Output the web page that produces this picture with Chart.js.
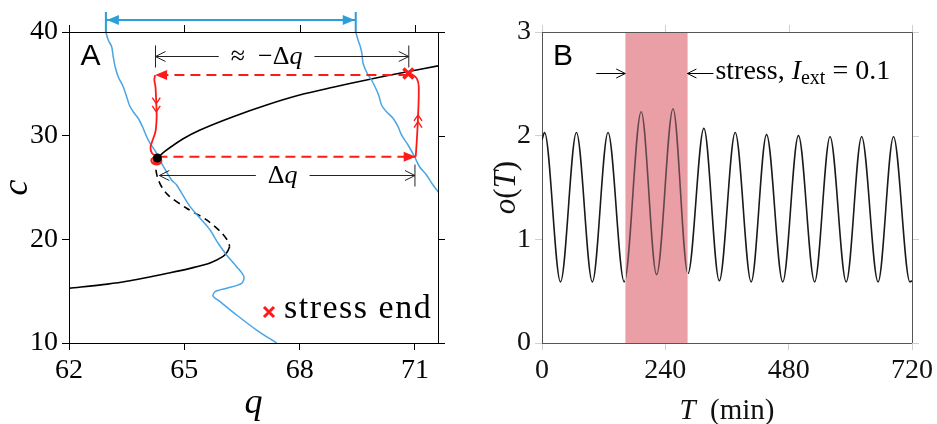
<!DOCTYPE html>
<html>
<head>
<meta charset="utf-8">
<script src="https://cdn.jsdelivr.net/npm/chart.js@4.4.1/dist/chart.umd.min.js"></script>
<style>
html,body{margin:0;padding:0;background:#fff;overflow:hidden}
#wrap{position:relative;width:937px;height:424px}
#boxA{position:absolute;left:0;top:0;width:468px;height:424px}
#boxB{position:absolute;left:468px;top:0;width:469px;height:424px}
</style>
</head>
<body>
<div id="wrap">
  <div id="boxA"><canvas id="chartA"></canvas></div>
  <div id="boxB"><canvas id="chartB"></canvas></div>
</div>
<script>
// ---- panel A: phase plane (q, c) ----
const qTicks=[62,65,68,71];
const cTicks=[10,20,30,40];

// nullclines (blue), before and during stress
const blueLQ=[62.96,63.02,63.11,63.15,63.20,63.28,63.41,63.50,63.57,63.67,63.80,63.93,64.02,64.11,64.28,64.41,64.67,64.80,65.15,65.45,65.67,65.88,66.10,66.36,66.55,66.49,66.10,65.80,65.75,65.93,66.36,66.88,67.40];
const blueLC=[40.0,39.23,38.58,37.62,36.65,35.69,34.72,33.76,32.96,32.31,31.68,30.71,29.90,29.26,28.30,27.33,25.72,25.24,23.15,21.87,20.90,19.62,18.49,17.36,16.40,15.76,15.28,14.95,14.53,13.99,12.70,11.25,10.0];
const blueRQ=[69.46,69.52,69.58,69.62,69.65,69.76,69.87,69.98,70.07,70.13,70.26,70.43,70.56,70.65,70.82,70.99,71.12,71.30,71.47,71.62];
const blueRC=[40.0,39.23,38.58,37.94,36.98,36.0,35.37,34.57,33.76,32.96,32.31,31.68,30.87,30.07,29.10,27.97,27.0,26.21,25.24,24.5];

// fixed-point branches (black)
const upperQ=[64.30,64.50,64.97,65.41,66.27,67.14,68.00,68.87,69.74,70.60,71.62];
const upperC=[27.85,28.50,29.70,30.55,31.83,32.96,33.92,34.67,35.37,36.02,36.75];
const unstableQ=[64.30,64.26,64.30,64.42,64.60,65.06,65.58,65.95,66.14,66.18];
const unstableC=[27.85,26.90,26.00,25.00,24.20,23.00,21.87,20.70,19.80,19.30];
const lowerQ=[66.18,66.12,66.01,65.67,65.15,64.63,63.50,63.00,62.00];
const lowerC=[19.30,18.80,18.35,17.72,17.20,16.78,15.95,15.68,15.27];

// stress trajectory (red)
const redUpQ=[71.02,71.05,71.08,71.10,71.05,70.93,70.83];
const redUpC=[27.97,29.60,31.80,34.70,35.50,35.90,36.00];
const redDownQ=[64.24,64.22,64.25,64.27,64.28,64.25,64.17,64.12,64.16,64.30];
const redDownC=[35.85,35.40,34.70,33.20,31.80,30.40,29.50,28.85,28.30,27.97];
const loopQ=[64.30,64.18,64.14,64.22,64.36,64.40,64.31,64.20,64.24,64.34,64.30];
const loopC=[27.95,27.85,27.55,27.25,27.30,27.65,27.95,27.70,27.40,27.45,27.70];
const jumpOutQ=[64.30,71.02], jumpOutC=[27.97,27.97];
const jumpBackQ=[70.83,64.24], jumpBackC=[35.85,35.85];
const stressEndQ=[70.83], stressEndC=[36.0];
const restQ=[64.30], restC=[27.85];

// ---- panel B: o(T) time course ----
const timeTicks=[0,240,480,720];
const oTicks=[0,1,2,3];
const peakT=[5,67,128.5,193,255,315,376,437,499,560.5,622,684];
const peakO=[2.03,2.03,2.03,2.23,2.26,2.07,2.03,2.01,2.00,1.99,1.99,1.99];
const troughT=[36,98,160,223,284,345,407,468.5,530.5,592,654,716];
const troughO=[0.59,0.59,0.59,0.66,0.67,0.60,0.59,0.59,0.59,0.59,0.59,0.59];
const startO=1.96, endO=0.60;
const stressWindow=[162,283];

const BLUE='#4aa5e6', SPAN_BLUE='#2a9fd8', RED='#ff1a1a';
const serif=(s,it)=>(it?'italic ':'')+s+'px "Liberation Serif", serif';
const sans=s=>s+'px "Liberation Sans", sans-serif';

function pts(xs,ys){return xs.map((x,i)=>({x,y:ys[i]}));}
function curve(xs,ys,opts){
  return Object.assign({data:pts(xs,ys),showLine:true,pointRadius:0,fill:false,borderWidth:1.6},opts);
}
function chevron(ctx,x,y,ang,len,half){
  const c=Math.cos(ang),s=Math.sin(ang);
  ctx.beginPath();
  ctx.moveTo(x-len*c-half*s,y-len*s+half*c);
  ctx.lineTo(x,y);
  ctx.lineTo(x-len*c+half*s,y-len*s-half*c);
  ctx.stroke();
}
function headFilled(ctx,x,y,ang,len,half){
  const c=Math.cos(ang),s=Math.sin(ang);
  ctx.beginPath();
  ctx.moveTo(x,y);
  ctx.lineTo(x-len*c-half*s,y-len*s+half*c);
  ctx.lineTo(x-len*c+half*s,y-len*s-half*c);
  ctx.closePath();
  ctx.fill();
}
function runsWidth(ctx,runs){
  let w=0;
  runs.forEach(r=>{ctx.font=r.f;w+=ctx.measureText(r.t).width;});
  return w;
}
function drawRuns(ctx,runs,x,y,align){
  const w=runsWidth(ctx,runs);
  let cx=align==='center'?x-w/2:(align==='right'?x-w:x);
  ctx.textAlign='left';ctx.textBaseline='alphabetic';
  runs.forEach(r=>{ctx.font=r.f;ctx.fillText(r.t,cx,y+(r.dy||0));cx+=ctx.measureText(r.t).width;});
  return w;
}
// top and right edges of the box, with outward ticks
function frame(chart,xVals,yVals,lineColor,tickColor){
  const ctx=chart.ctx,ca=chart.chartArea,xs=chart.scales.x,ys=chart.scales.y;
  ctx.save();
  ctx.lineWidth=1;ctx.strokeStyle=tickColor;
  ctx.beginPath();
  xVals.forEach(v=>{const p=Math.round(xs.getPixelForValue(v))+0.5;ctx.moveTo(p,ca.top);ctx.lineTo(p,ca.top-7);});
  yVals.forEach(v=>{const p=Math.round(ys.getPixelForValue(v))+0.5;ctx.moveTo(ca.right,p);ctx.lineTo(ca.right+7,p);});
  ctx.stroke();
  ctx.strokeStyle=lineColor;
  ctx.beginPath();
  ctx.moveTo(ca.left,ca.top+0.5);ctx.lineTo(ca.right+0.5,ca.top+0.5);ctx.lineTo(ca.right+0.5,ca.bottom);
  ctx.stroke();
  ctx.restore();
}
function fixedTicks(vals){return s=>{s.ticks=vals.map(v=>({value:v}));};}

const annotA={
  id:'annotA',
  afterDatasetsDraw(chart){
    const ctx=chart.ctx,ca=chart.chartArea,xs=chart.scales.x,ys=chart.scales.y;
    const X=v=>xs.getPixelForValue(v),Y=v=>ys.getPixelForValue(v);
    ctx.save();
    // filled heads on the dashed jumps
    chart.data.datasets.forEach((ds,i)=>{
      if(!ds.arrowEnd)return;
      const p=chart.getDatasetMeta(i).data,a=p[p.length-2],b=p[p.length-1];
      ctx.fillStyle=RED;
      headFilled(ctx,b.x,b.y,Math.atan2(b.y-a.y,b.x-a.x),12,5);
    });
    // double chevrons along the red trajectory
    ctx.strokeStyle=RED;ctx.lineWidth=1.4;
    [33.1,32.3].forEach(c=>chevron(ctx,X(64.27),Y(c),Math.PI/2,6,4));
    [32.0,31.35].forEach(c=>chevron(ctx,X(71.08),Y(c),-Math.PI/2,6,4));

    // dimension arrows
    ctx.strokeStyle='#222';ctx.fillStyle='#000';ctx.lineWidth=1;
    const dim=(q1,q2,c,runs,textQ,barL,barR)=>{
      const x1=X(q1),x2=X(q2),y=Math.round(Y(c))+0.5,tx=X(textQ);
      const w=runsWidth(ctx,runs);
      ctx.beginPath();
      ctx.moveTo(x1,y);ctx.lineTo(tx-w/2-12,y);
      ctx.moveTo(tx+w/2+12,y);ctx.lineTo(x2,y);
      ctx.stroke();
      chevron(ctx,x1,y,Math.PI,10,5);
      chevron(ctx,x2,y,0,10,5);
      ctx.beginPath();
      if(barL){ctx.moveTo(x1,y-11);ctx.lineTo(x1,y+11);}
      if(barR){ctx.moveTo(x2,y-11);ctx.lineTo(x2,y+11);}
      ctx.stroke();
      drawRuns(ctx,runs,tx,y+7.5,'center');
    };
    dim(64.25,70.84,37.68,[{t:'\u2248  \u2212\u0394',f:serif(26)},{t:'q',f:serif(26,true)}],67.14,true,true);
    dim(64.35,71.0,26.2,[{t:'\u0394',f:serif(26)},{t:'q',f:serif(26,true)}],67.56,false,true);

    // blue span between the two nullclines, above the box
    const bx1=X(blueLQ[0]),bx2=X(blueRQ[0]),by=ca.top-12;
    ctx.strokeStyle=SPAN_BLUE;ctx.fillStyle=SPAN_BLUE;ctx.lineWidth=2;
    ctx.beginPath();
    ctx.moveTo(bx1,by);ctx.lineTo(bx2,by);
    ctx.moveTo(bx1,ca.top-20);ctx.lineTo(bx1,ca.top);
    ctx.moveTo(bx2,ca.top-20);ctx.lineTo(bx2,ca.top);
    ctx.stroke();
    headFilled(ctx,bx1+1,by,Math.PI,12,5);
    headFilled(ctx,bx2-1,by,0,12,5);

    // legend: stress end
    const lx=ca.right-169,ly=ca.bottom-31;
    ctx.strokeStyle=RED;ctx.lineWidth=3;
    ctx.beginPath();
    ctx.moveTo(lx-5,ly-5);ctx.lineTo(lx+5,ly+5);
    ctx.moveTo(lx-5,ly+5);ctx.lineTo(lx+5,ly-5);
    ctx.stroke();
    ctx.fillStyle='#000';
    ctx.letterSpacing='1.5px';
    ctx.font=serif(34);ctx.textAlign='left';ctx.textBaseline='alphabetic';
    ctx.fillText('stress end',lx+15,ly+6);
    ctx.letterSpacing='0px';

    // panel letter
    ctx.font=sans(30);
    ctx.fillText('A',ca.left+11.5,ca.top+33);
    ctx.restore();
  },
  afterDraw(chart){
    const ctx=chart.ctx,ca=chart.chartArea;
    frame(chart,qTicks,cTicks,'#000','#000');
    ctx.save();
    ctx.fillStyle='#000';
    ctx.font=serif(36,true);ctx.textAlign='center';ctx.textBaseline='alphabetic';
    ctx.fillText('q',(ca.left+ca.right)/2,413);
    ctx.translate(26.5,(ca.top+ca.bottom)/2);
    ctx.rotate(-Math.PI/2);
    ctx.font=serif(36,true);
    ctx.fillText('c',0,0);
    ctx.restore();
  }
};

const annotB={
  id:'annotB',
  beforeDatasetsDraw(chart){
    const ctx=chart.ctx,ca=chart.chartArea,xs=chart.scales.x;
    const x1=xs.getPixelForValue(stressWindow[0]),x2=xs.getPixelForValue(stressWindow[1]);
    ctx.save();
    ctx.fillStyle='rgb(234,158,165)';
    ctx.fillRect(x1,ca.top,x2-x1,ca.bottom-ca.top);
    ctx.restore();
  },
  afterDatasetsDraw(chart){
    const ctx=chart.ctx,ca=chart.chartArea,xs=chart.scales.x;
    const x1=xs.getPixelForValue(stressWindow[0]),x2=xs.getPixelForValue(stressWindow[1]);
    ctx.save();
    // light veil of the band over the trace
    ctx.fillStyle='rgba(234,158,165,0.35)';
    ctx.fillRect(x1,ca.top,x2-x1,ca.bottom-ca.top);
    ctx.strokeStyle='#d4d4d4';ctx.lineWidth=1;
    ctx.beginPath();
    ctx.moveTo(Math.round(x1)+0.5,ca.top);ctx.lineTo(Math.round(x1)+0.5,ca.bottom);
    ctx.moveTo(Math.round(x2)+0.5,ca.top);ctx.lineTo(Math.round(x2)+0.5,ca.bottom);
    ctx.stroke();

    // stress marker arrows and label
    const ay=ca.top+41.5;
    ctx.strokeStyle='#000';ctx.lineWidth=1;
    ctx.beginPath();
    ctx.moveTo(x1-29,ay);ctx.lineTo(x1,ay);
    ctx.moveTo(x2,ay);ctx.lineTo(x2+26,ay);
    ctx.stroke();
    chevron(ctx,x1,ay,0,9,4.5);
    chevron(ctx,x2,ay,Math.PI,9,4.5);
    ctx.fillStyle='#000';
    drawRuns(ctx,[
      {t:'stress, ',f:serif(28)},
      {t:'I',f:serif(28,true)},
      {t:'ext',f:serif(20),dy:5},
      {t:' = 0.1',f:serif(28)}
    ],x2+28,ca.top+47,'left');

    ctx.font=sans(30);
    ctx.fillText('B',ca.left+11,ca.top+33);
    ctx.restore();
  },
  afterDraw(chart){
    const ctx=chart.ctx,ca=chart.chartArea;
    frame(chart,timeTicks,oTicks,'#555','#cfcfcf');
    ctx.save();
    ctx.fillStyle='#111';
    drawRuns(ctx,[{t:'T',f:serif(29,true)},{t:'  (min)',f:serif(29)}],(ca.left+ca.right)/2,419,'center');
    ctx.translate(47,(ca.top+ca.bottom)/2);
    ctx.rotate(-Math.PI/2);
    drawRuns(ctx,[{t:'o',f:serif(31,true)},{t:'(',f:serif(31)},{t:'T',f:serif(31,true)},{t:')',f:serif(31)}],0,0,'center');
    ctx.restore();
  }
};

// ---- chart A ----
new Chart(document.getElementById('chartA'),{
  type:'scatter',
  data:{datasets:[
    {data:pts(stressEndQ,stressEndC),pointStyle:'crossRot',pointRadius:7,pointBorderWidth:3.5,pointBorderColor:RED,showLine:false},
    {data:pts(restQ,restC),pointRadius:4.5,pointBackgroundColor:'#000',pointBorderWidth:0,showLine:false},
    curve(loopQ,loopC,{borderColor:RED,borderWidth:1.8,tension:0.4}),
    curve(jumpOutQ,jumpOutC,{borderColor:RED,borderWidth:2,borderDash:[10,6],arrowEnd:true}),
    curve(jumpBackQ,jumpBackC,{borderColor:RED,borderWidth:2,borderDash:[10,6],arrowEnd:true}),
    curve(redUpQ,redUpC,{borderColor:RED,borderWidth:1.8,tension:0.3}),
    curve(redDownQ,redDownC,{borderColor:RED,borderWidth:1.8,tension:0.3}),
    curve(blueLQ,blueLC,{borderColor:BLUE,borderWidth:1.5,tension:0.3}),
    curve(blueRQ,blueRC,{borderColor:BLUE,borderWidth:1.5,tension:0.3}),
    curve(upperQ,upperC,{borderColor:'#000',tension:0.3}),
    curve(unstableQ,unstableC,{borderColor:'#000',borderDash:[7,5],tension:0.3}),
    curve(lowerQ,lowerC,{borderColor:'#000',tension:0.3})
  ]},
  options:{
    animation:false,responsive:true,maintainAspectRatio:false,
    layout:{padding:{left:0,top:32,right:30,bottom:0}},
    plugins:{legend:{display:false},tooltip:{enabled:false}},
    scales:{
      x:{type:'linear',min:62,max:71.6,afterBuildTicks:fixedTicks(qTicks),afterFit:s=>{s.height=81;},
        ticks:{color:'#000',font:{family:'"Liberation Serif", serif',size:28},padding:4,maxRotation:0},
        grid:{drawOnChartArea:false,color:'#000',tickLength:7},
        border:{color:'#000',width:1}},
      y:{type:'linear',min:10,max:40,afterBuildTicks:fixedTicks(cTicks),afterFit:s=>{s.width=69;},
        ticks:{color:'#000',font:{family:'"Liberation Serif", serif',size:28},padding:4},
        grid:{drawOnChartArea:false,color:'#000',tickLength:7},
        border:{color:'#000',width:1}}
    }
  },
  plugins:[annotA]
});

// ---- chart B ----
const oSeries=[{x:0,y:startO}];
peakT.forEach((t,i)=>{oSeries.push({x:t,y:peakO[i]});oSeries.push({x:troughT[i],y:troughO[i]});});
oSeries.push({x:720,y:endO});

new Chart(document.getElementById('chartB'),{
  type:'line',
  data:{datasets:[{data:oSeries,borderColor:'#1a1a1a',borderWidth:1.6,pointRadius:0,fill:false,cubicInterpolationMode:'monotone'}]},
  options:{
    animation:false,responsive:true,maintainAspectRatio:false,
    layout:{padding:{left:0,top:32,right:25,bottom:0}},
    plugins:{legend:{display:false},tooltip:{enabled:false}},
    scales:{
      x:{type:'linear',min:0,max:720,afterBuildTicks:fixedTicks(timeTicks),afterFit:s=>{s.height=81;},
        ticks:{color:'#111',font:{family:'"Liberation Serif", serif',size:28},padding:4,maxRotation:0},
        grid:{drawOnChartArea:false,color:'#cfcfcf',tickLength:7},
        border:{color:'#555',width:1}},
      y:{type:'linear',min:0,max:3,afterBuildTicks:fixedTicks(oTicks),afterFit:s=>{s.width=74;},
        ticks:{color:'#111',font:{family:'"Liberation Serif", serif',size:28},padding:4},
        grid:{drawOnChartArea:false,color:'#cfcfcf',tickLength:7},
        border:{color:'#555',width:1}}
    }
  },
  plugins:[annotB]
});
</script>
</body>
</html>
